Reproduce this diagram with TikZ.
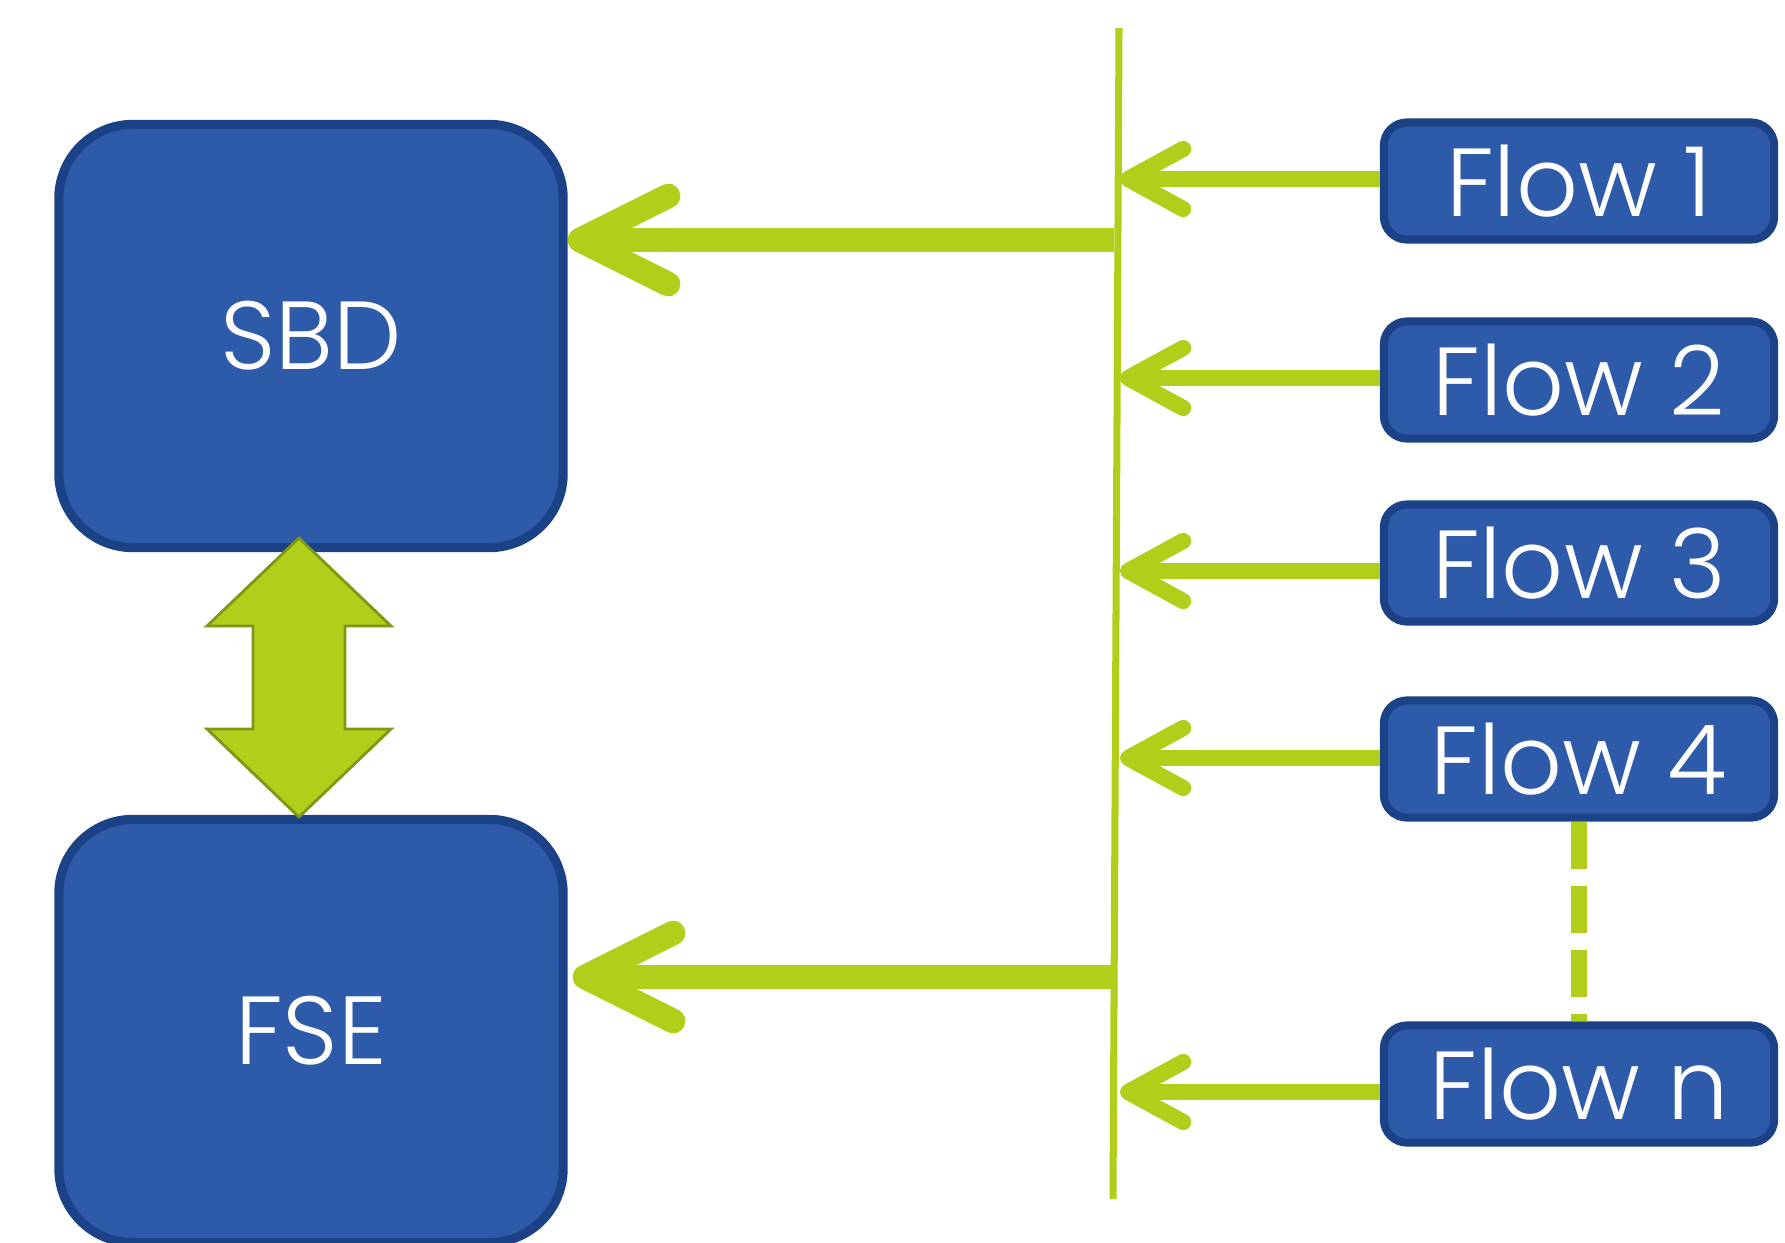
\documentclass[tikz,border=0pt]{standalone}
\usepackage{fontspec}
\setmainfont{Poppins}[UprightFont=* Light]
\usepackage{tikz}
\usetikzlibrary{arrows.meta}
\definecolor{boxblue}{RGB}{45,91,169}
\definecolor{boxedge}{RGB}{27,66,135}
\definecolor{flowgreen}{RGB}{176,207,26}
\definecolor{arrowshade}{RGB}{128,150,20}

\begin{document}
\begin{tikzpicture}[x=0.01cm,y=-0.01cm]
            \useasboundingbox (0,0) rectangle (1785,1242);

            \begin{scope}[every node/.style={rectangle,rounded corners=0.74cm,draw=boxedge,fill=boxblue,
                          line width=2.6pt,minimum width=5.04cm,minimum height=4.23cm,
                          text=white,font=\fontsize{27.5}{30}\selectfont}]
                \node (sbd) at (311,336) {SBD};
                \node (fse) at (311,1031) {FSE};
            \end{scope}

            \begin{scope}[every node/.style={rectangle,rounded corners=0.23cm,draw=boxedge,fill=boxblue,
                          line width=2.3pt,minimum width=3.9cm,minimum height=1.17cm,
                          text=white,font=\fontsize{27.5}{30}\selectfont}]
                \node (f1) at (1579,181) {Flow 1};
                \node (f2) at (1579,380) {Flow 2};
                \node (f3) at (1579,563) {Flow 3};
                \node (f4) at (1579,759) {Flow 4};
                \node (fn) at (1579,1084) {Flow n};
            \end{scope}

            % double arrow between SBD and FSE
            \filldraw[fill=flowgreen,draw=arrowshade,line width=0.8pt]
                (299,538) -- (391,626) -- (345,626) -- (345,729) -- (391,729) -- (299,817)
                -- (207,729) -- (253,729) -- (253,626) -- (207,626) -- cycle;

            % vertical bus
            \coordinate (bustop) at (1119,28);
            \coordinate (busbot) at (1113,1199);
            \coordinate (bus) at (1120,0);
            \draw[flowgreen,line width=2pt] (bustop) -- (busbot);

            \begin{scope}[>={Straight Barb[round,length=5.5mm,width=6mm]},
                          flowgreen,line width=4.6pt]
                \foreach \f/\dy in {f1/-2,f2/-2,f3/8,f4/-1,fn/8}
                    \draw[->] ([yshift=-\dy*0.01cm]\f.west) -- ([yshift=-\dy*0.01cm]\f.west -| bus);
            \end{scope}

            \begin{scope}[>={Straight Barb[round,length=8.8mm,width=8.8mm]},
                          flowgreen,line width=7pt]
                \coordinate (sbdin) at (1114,240);
                \coordinate (fsein) at (1111,977);
                \draw[->] (sbdin) -- (sbdin -| sbd.east);
                \draw[->] (fsein) -- ([xshift=0.05cm]fsein -| fse.east);
            \end{scope}

            \draw[flowgreen,line width=4.5pt,dash pattern=on 13.4pt off 4.8pt] (f4.south) -- (fn.north);
\end{tikzpicture}
\end{document}
